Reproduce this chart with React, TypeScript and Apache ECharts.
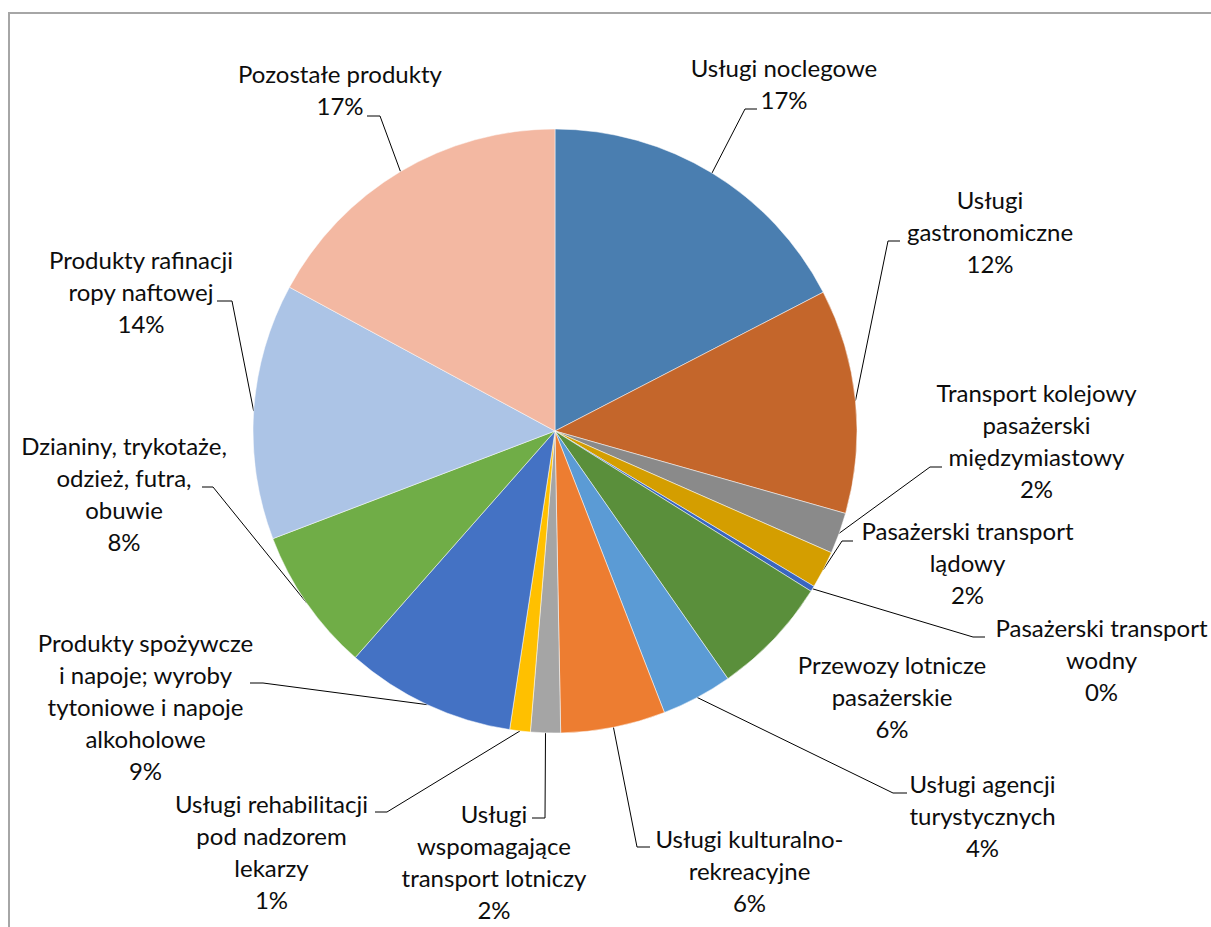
import React, { useEffect, useRef } from 'react';
import * as echarts from 'echarts';

const categories: string[] = [
  'Usługi noclegowe',
  'Usługi\ngastronomiczne',
  'Transport kolejowy\npasażerski\nmiędzymiastowy',
  'Pasażerski transport\nlądowy',
  'Pasażerski transport\nwodny',
  'Przewozy lotnicze\npasażerskie',
  'Usługi agencji\nturystycznych',
  'Usługi kulturalno-\nrekreacyjne',
  'Usługi\nwspomagające\ntransport lotniczy',
  'Usługi rehabilitacji\npod nadzorem\nlekarzy',
  'Produkty spożywcze\ni napoje; wyroby\ntytoniowe i napoje\nalkoholowe',
  'Dzianiny, trykotaże,\nodzież, futra,\nobuwie',
  'Produkty rafinacji\nropy naftowej',
  'Pozostałe produkty',
];

const shares: number[] = [17.4, 12.0, 2.2, 2.0, 0.3, 6.4, 3.8, 5.6, 1.6, 1.1, 9.1, 7.7, 13.7, 17.1];

const sliceColors: string[] = [
  '#4A7EB0', '#C4662B', '#8A8A8A', '#D49E00', '#3A66C0', '#5A8F3B', '#5B9BD5',
  '#ED7D31', '#A5A5A5', '#FFC000', '#4472C4', '#70AD47', '#ACC4E6', '#F3B8A2',
];

// label placement: [centerX, firstBaselineY, elbowX, elbowY, endX, endY]
const labelSpots: number[][] = [
  [784, 77, 745, 109, 757, 109],
  [990, 209, 888, 241, 900, 241],
  [1036.5, 402, 930, 467, 942, 467],
  [967.5, 540, 842, 541, 853, 541],
  [1101.5, 637, 973, 637, 985, 637],
  [892, 674],
  [982.5, 793, 893, 793, 907, 793],
  [749.5, 848, 637, 847, 650, 847],
  [494, 823, 545, 818, 532, 818],
  [271.5, 813, 387, 812, 375, 812],
  [145.5, 652, 263, 683, 250, 683],
  [124, 455, 213, 487, 202, 487],
  [141, 269, 232, 301, 217, 301],
  [340, 83, 380, 116, 367, 116],
];

const FONT_SIZE = 24;
const LINE_H = 32;
const BASE_OFF = 25.3;

export default function App() {
  const ref = useRef<HTMLDivElement>(null);
  useEffect(() => {
    if (!ref.current) return;
    const chart = echarts.init(ref.current, null, { renderer: 'svg' });
    const total = shares.reduce((a, b) => a + b, 0);
    const data = categories.map((name, i) => ({
      name,
      value: shares[i],
      itemStyle: { color: sliceColors[i] },
      labelLine: { show: labelSpots[i].length > 2 },
    }));
    chart.setOption({
      animation: false,
      backgroundColor: '#ffffff',
      graphic: [
        {
          type: 'rect',
          silent: true,
          shape: { x: 9, y: 13, width: 1400, height: 1100 },
          style: { fill: 'none', stroke: '#A6A6A6', lineWidth: 2 },
        },
      ],
      series: [
        {
          type: 'pie',
          center: [555, 431],
          radius: 302,
          startAngle: 90,
          clockwise: true,
          avoidLabelOverlap: false,
          left: 0,
          top: 0,
          width: 1211,
          height: 927,
          itemStyle: { borderColor: '#ffffff', borderWidth: 0.5 },
          emphasis: { disabled: true },
          label: {
            show: true,
            position: 'outside',
            overflow: 'none',
            fontFamily: 'Lato',
            fontSize: FONT_SIZE,
            lineHeight: LINE_H,
            color: '#0d0d0d',
            formatter: (p: any) => `${p.name}\n${Math.round((p.value / total) * 100)}%`,
          },
          labelLine: {
            show: true,
            length: 10,
            length2: 10,
            smooth: false,
            lineStyle: { color: '#000000', width: 1 },
          },
          labelLayout: (params: any) => {
            const s = labelSpots[params.dataIndex];
            const out: any = {
              x: s[0],
              y: s[1] - BASE_OFF,
              align: 'center',
              verticalAlign: 'top',
            };
            if (s.length > 2 && params.labelLinePoints) {
              const p0 = params.labelLinePoints[0];
              out.labelLinePoints = [
                [p0[0], p0[1]],
                [s[2], s[3]],
                [s[4], s[5]],
              ];
            }
            return out;
          },
          data,
        },
      ],
    });
    return () => chart.dispose();
  }, []);
  return (
    <div
      ref={ref}
      style={{ position: 'absolute', left: 0, top: 0, width: 1211, height: 927 }}
    />
  );
}
